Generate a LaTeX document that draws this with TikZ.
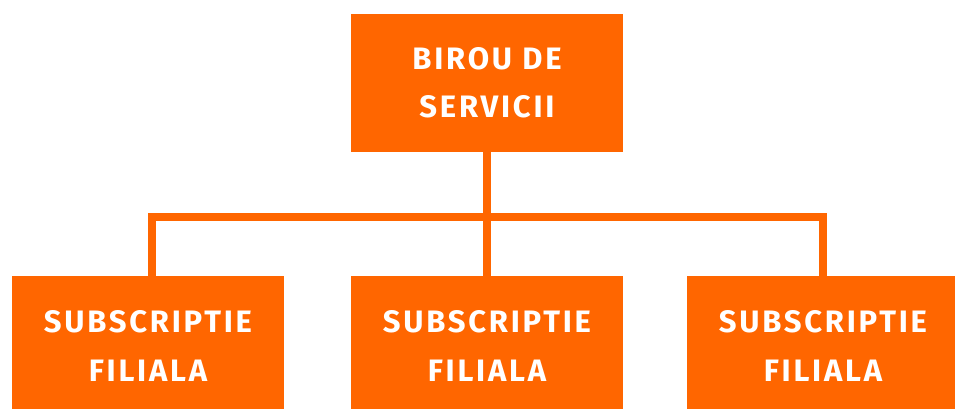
\documentclass[tikz,border=0pt]{standalone}
\usepackage{fontspec}
\setmainfont{Fira Sans}
\newfontfamily\boxfont[LetterSpace=9]{Fira Sans Bold}
\definecolor{orgbox}{RGB}{255,102,0}
\begin{document}
\begin{tikzpicture}[x=1pt,y=1pt,
  orgnode/.style={fill=orgbox, draw=none, text=white, align=center,
    minimum width=272pt, inner sep=0pt,
    font=\boxfont\fontsize{31}{48.5}\selectfont},
  conn/.style={draw=orgbox, line width=8pt, line join=miter}]
\useasboundingbox (0,0) rectangle (955,-409);
\clip (0,0) rectangle (955,-409);
\node[orgnode, minimum height=138pt] (top) at (487,-83) {BIROU DE\\SERVICII};
\node[orgnode, minimum height=140pt] (b1) at (148,-346) {SUBSCRIPTIE\\FILIALA};
\node[orgnode, minimum height=140pt] (b2) at (487,-346) {SUBSCRIPTIE\\FILIALA};
\node[orgnode, minimum height=140pt] (b3) at (823,-346) {SUBSCRIPTIE\\FILIALA};
\coordinate (bus) at (487,-216.5);
\draw[conn] ([xshift=4pt]b1.north) |- (b3.north |- bus) -- (b3.north);
\draw[conn] (top.south) -- (b2.north);
\end{tikzpicture}
\end{document}
